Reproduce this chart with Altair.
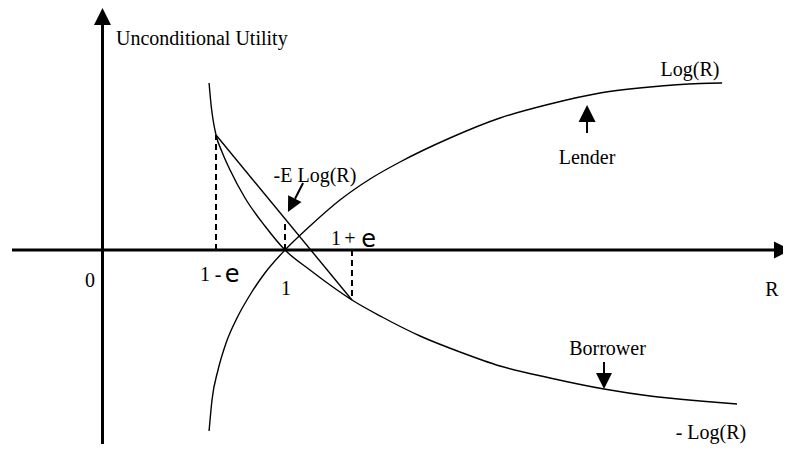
import altair as alt
import pandas as pd

# ---------------- data (R on the x axis, unconditional utility on the y axis) ----------------
lender_r = [0.584, 0.600, 0.633, 0.677, 0.737, 0.808, 0.890, 1.000, 1.137, 1.301, 1.466, 1.630, 1.904, 2.178, 2.452, 2.726, 3.000, 3.274, 3.395]
lender_u = [-1.81, -1.50, -1.20, -0.93, -0.68, -0.45, -0.23, 0.00, 0.24, 0.50, 0.71, 0.88, 1.12, 1.32, 1.46, 1.57, 1.63, 1.665, 1.67]

borrower_r = [0.584, 0.595, 0.606, 0.622, 0.655, 0.699, 0.781, 0.890, 1.000, 1.137, 1.247, 1.367, 1.532, 1.740, 1.959, 2.178, 2.452, 2.748, 3.000, 3.274, 3.477]
borrower_u = [1.67, 1.45, 1.30, 1.15, 0.98, 0.80, 0.52, 0.24, 0.00, -0.20, -0.35, -0.50, -0.67, -0.86, -1.02, -1.16, -1.28, -1.39, -1.46, -1.51, -1.54]

# chord between 1-e and 1+e on the borrower curve
chord_r = [0.622, 1.367]
chord_u = [1.15, -0.50]

# dashed drop lines at 1-e, 1, 1+e
dash_r = [0.622, 1.0, 1.367]
dash_top = [1.15, 0.30, -0.50]

# axes extents
xaxis_r = [-0.496, 3.70]
yaxis_u = [-2.05, 2.30]

# text labels (serif)
label_text = ["0", "R", "1", "1", "-", "1", "+", "-E Log(R)", "Log(R)", "Lender", "Borrower", "- Log(R)"]
label_r = [-0.068, 3.668, 1.005, 0.562, 0.633, 1.279, 1.356, 1.164, 3.219, 2.655, 2.767, 3.334]
label_u = [-0.31, -0.40, -0.39, -0.245, -0.245, 0.11, 0.11, 0.74, 1.80, 0.92, -0.99, -1.83]

title_text = ["Unconditional Utility"]
title_r = [0.074]
title_u = [2.115]

# the "e" glyphs (sans)
e_text = ["e", "e"]
e_r = [0.71, 1.458]
e_u = [-0.25, 0.105]

# arrow shafts
shaft_r = [2.655, 2.748, 1.099]
shaft_u = [1.17, -1.12, 0.67]
shaft_r2 = [2.655, 2.748, 1.055]
shaft_u2 = [1.28, -1.23, 0.513]

# arrow heads (centres)
head_up_r = [0.0, 2.655]
head_up_u = [2.335, 1.365]
head_right_r = [3.726]
head_right_u = [0.0]
head_down_r = [2.748]
head_down_u = [-1.31]
head_diag_r = [1.035]
head_diag_u = [0.447]

# ---------------- chart ----------------
XS = alt.Scale(domain=[-0.5178, 3.7288], nice=False, zero=False)
YS = alt.Scale(domain=[-1.94, 2.42], nice=False, zero=False)
TRI = "M0,-1L1,1L-1,1Z"
SERIF = "Liberation Serif"


def xy(chart, xf="r", yf="u"):
    return chart.encode(
        x=alt.X(f"{xf}:Q", scale=XS, axis=None),
        y=alt.Y(f"{yf}:Q", scale=YS, axis=None),
    )


lender = xy(alt.Chart(pd.DataFrame({"r": lender_r, "u": lender_u})).mark_line(
    color="black", strokeWidth=1.4, interpolate="monotone"))
borrower = xy(alt.Chart(pd.DataFrame({"r": borrower_r, "u": borrower_u})).mark_line(
    color="black", strokeWidth=1.4, interpolate="monotone"))
chord = xy(alt.Chart(pd.DataFrame({"r": chord_r, "u": chord_u})).mark_line(
    color="black", strokeWidth=1.4))

dash_df = pd.DataFrame({"r": dash_r, "u": [0.0] * len(dash_r), "u2": dash_top})
dashes = alt.Chart(dash_df).mark_rule(color="black", strokeWidth=2, strokeDash=[6, 4]).encode(
    x=alt.X("r:Q", scale=XS, axis=None),
    y=alt.Y("u:Q", scale=YS, axis=None),
    y2="u2:Q",
)

axes_df = pd.DataFrame({
    "r": [xaxis_r[0], 0.0], "u": [0.0, yaxis_u[0]],
    "r2": [xaxis_r[1], 0.0], "u2": [0.0, yaxis_u[1]],
})
axes = alt.Chart(axes_df).mark_rule(color="black", strokeWidth=3).encode(
    x=alt.X("r:Q", scale=XS, axis=None), y=alt.Y("u:Q", scale=YS, axis=None),
    x2="r2:Q", y2="u2:Q",
)

shafts = alt.Chart(pd.DataFrame({"r": shaft_r, "u": shaft_u, "r2": shaft_r2, "u2": shaft_u2})).mark_rule(
    color="black", strokeWidth=2).encode(
    x=alt.X("r:Q", scale=XS, axis=None), y=alt.Y("u:Q", scale=YS, axis=None),
    x2="r2:Q", y2="u2:Q",
)


def heads(rs, us, angle, size):
    return xy(alt.Chart(pd.DataFrame({"r": rs, "u": us})).mark_point(
        shape=TRI, filled=True, fill="black", strokeWidth=0, opacity=1, size=size, angle=angle))


h_up = heads(head_up_r, head_up_u, 0, 289)
h_right = heads(head_right_r, head_right_u, 90, 289)
h_down = heads(head_down_r, head_down_u, 180, 256)
h_diag = heads(head_diag_r, head_diag_u, 207.3, 225)

labels = xy(alt.Chart(pd.DataFrame({"r": label_r, "u": label_u, "t": label_text})).mark_text(
    font=SERIF, fontSize=20, color="black", align="center", baseline="middle")).encode(text="t:N")
title = xy(alt.Chart(pd.DataFrame({"r": title_r, "u": title_u, "t": title_text})).mark_text(
    font=SERIF, fontSize=20, color="black", align="left", baseline="middle")).encode(text="t:N")
e_labels = xy(alt.Chart(pd.DataFrame({"r": e_r, "u": e_u, "t": e_text})).mark_text(
    font="DejaVu Sans", fontSize=24, color="black", align="center", baseline="middle")).encode(text="t:N")

chart = alt.layer(
    axes, dashes, lender, borrower, chord, shafts,
    h_up, h_right, h_down, h_diag,
    labels, title, e_labels,
).properties(
    width=775, height=436, padding=0, autosize="none", background="white"
).configure_view(stroke=None)

chart.save("out.html", embed_options={"renderer": "svg", "actions": False})
